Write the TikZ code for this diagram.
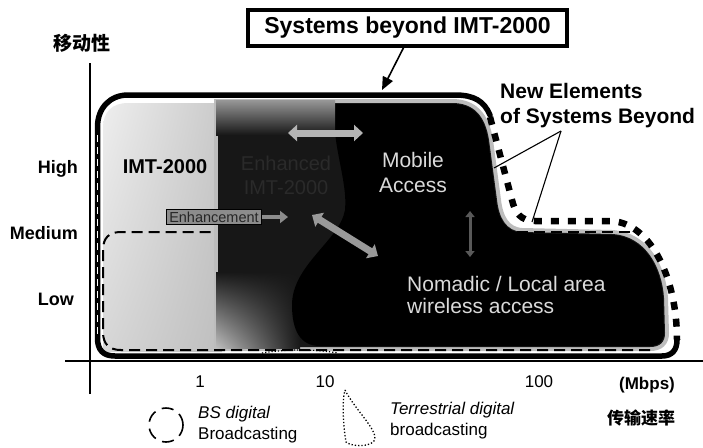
\documentclass[tikz,border=0pt]{standalone}
\usepackage{fontspec}
\setmainfont{Liberation Sans}
\newfontfamily\cjk{Noto Sans CJK SC}
\usetikzlibrary{arrows.meta,shadings}
\definecolor{darkfill}{HTML}{171717}
\definecolor{halo}{HTML}{BDBDBD}
\definecolor{lightA}{HTML}{EEEEEE}
\definecolor{lightB}{HTML}{CACACA}
\definecolor{lightC}{HTML}{D6D6D6}
\definecolor{lightD}{HTML}{BEBEBE}
\definecolor{textlight}{HTML}{DADADA}
\definecolor{textfaint}{HTML}{2A2A2A}
\definecolor{garrowc}{HTML}{B4B4B4}
\definecolor{enhfill}{HTML}{8C8C8C}
\begin{document}
\begin{tikzpicture}[x=1pt,y=-1pt,
  axlabel/.style={font=\fontsize{18}{18}\selectfont\bfseries, inner sep=0},
  ticklabel/.style={font=\fontsize{17}{17}\selectfont, inner sep=0},
  legtext/.style={font=\fontsize{17}{17}\selectfont, inner sep=0, anchor=base west},
  blobtext/.style={font=\fontsize{21}{25}\selectfont, text=textlight, inner sep=0, align=center},
  bordersolid/.style={line width=5.5, line cap=round},
  borderdash/.style={line width=6.5, dash pattern=on 8 off 9},
  bsdash/.style={line width=2, dash pattern=on 11 off 6},
  garrow/.style={draw=garrowc, line width=7, {Triangle[length=9pt,width=16pt]}-{Triangle[length=9pt,width=16pt]}},
]
\useasboundingbox (0,0) rectangle (703,447);

% ---------- light grey IMT-2000 zone ----------
\shade[upper left=lightA, upper right=lightB, lower left=lightC, lower right=lightD]
  (103,128) .. controls (103,112) and (112,103) .. (128,103) -- (222,103) -- (222,352) -- (103,352) -- cycle;

% ---------- dark zone (Enhanced IMT-2000 + new elements) ----------
\path[fill=darkfill, preaction={draw=halo, line width=8}]
  (218,103) -- (452,103) .. controls (473,103) and (485,115) .. (489,140) -- (497,200)
  .. controls (499,218) and (506,231) .. (522,232) -- (612,234)
  .. controls (646,236) and (662,268) .. (664,298) -- (665,333)
  .. controls (665,342) and (660,347) .. (650,347) -- (218,347) -- cycle;
\shade[upper left=darkfill, upper right=darkfill, lower right=darkfill, lower left=lightD]
  (216,272) rectangle (300,348);
\fill[black]
  (335,104) -- (452,104) .. controls (473,104) and (484,116) .. (488,140) -- (496,200)
  .. controls (498,219) and (506,232) .. (522,233) -- (612,235)
  .. controls (645,237) and (661,268) .. (663,298) -- (664,333)
  .. controls (664,341) and (659,346) .. (650,346) -- (320,346)
  .. controls (300,346) and (292,330) .. (292,305)
  .. controls (292,265) and (340,240) .. (345,210)
  .. controls (348,180) and (330,140) .. cycle;
\shade[top color=halo!80!black, bottom color=darkfill] (216,100) rectangle (335,135);

% ---------- BS digital broadcasting (dashed) ----------
\draw[bsdash]
  (650,350) -- (121,350) .. controls (109,350) and (103,344) .. (103,332) -- (103,250)
  .. controls (103,238) and (109,232) .. (121,232) -- (216,232);
\draw[bsdash] (500,232) -- (640,232);
% terrestrial digital broadcasting (dotted)
\draw[dotted, line width=1.2] (262,353) .. controls (285,349) and (315,349) .. (338,353);

% ---------- axes ----------
\coordinate (yb) at (90,394);
\coordinate (yt) at (90,63);
\coordinate (xl) at (65,361);
\coordinate (xr) at (703,361);
\draw[line width=1.2] (yb) -- (yt);
\draw[line width=1.2] (xl) -- (xr);

% ---------- outer border of systems beyond IMT-2000 ----------
\draw[bordersolid]
  (490,115) .. controls (484,101) and (474,95) .. (455,95) -- (128,95)
  .. controls (110,95) and (97.5,108) .. (97.5,127) -- (97.5,338)
  .. controls (97.5,350) and (103,356) .. (115,356) -- (662,356)
  .. controls (672,356) and (677,350) .. (677,340);
\draw[white, line width=1, dash pattern=on 7 off 5] (97.5,135) -- (97.5,335);
\draw[borderdash]
  (490,117) -- (512,200) .. controls (515,213) and (521,221) .. (535,221) -- (612,221)
  .. controls (652,224) and (677,280) .. (677,340);

% ---------- arrows inside ----------
\coordinate (ha1) at (288,133);
\coordinate (ha2) at (363,133);
\draw[garrow] (ha1) -- (ha2);
\coordinate (da1) at (312,215);
\coordinate (da2) at (378,256);
\draw[garrow, draw=garrowc!85!black] (da1) -- (da2);
\coordinate (va1) at (470,211);
\coordinate (va2) at (470,257);
\draw[draw=gray!70!black, line width=3, {Triangle[length=6pt,width=9pt]}-{Triangle[length=6pt,width=9pt]}] (va1) -- (va2);

\node[draw=black, line width=1, fill=enhfill, text=black!85, font=\fontsize{14.5}{14.5}\selectfont, inner xsep=3, inner ysep=2] (enh) at (214,217) {Enhancement};
\coordinate (enhtip) at (288,217);
\draw[draw=enhfill, line width=4, -{Triangle[length=8pt,width=12pt]}] (enh.east) -- (enhtip);

% ---------- texts inside ----------
\node[font=\fontsize{20}{20}\selectfont\bfseries, inner sep=0] (imt) at (165,167) {IMT-2000};
\node[font=\fontsize{20}{24}\selectfont, text=textfaint, inner sep=0, align=center] (eimt) at (286,175) {Enhanced\\IMT-2000};
\node[blobtext] (mob) at (413,172) {Mobile\\Access};
\node[font=\fontsize{21}{23}\selectfont, text=textlight, inner sep=0, anchor=base west] (nom1) at (407,291) {Nomadic / Local area};
\node[font=\fontsize{21}{23}\selectfont, text=textlight, inner sep=0, anchor=base west] (nom2) at (407,313) {wireless access};

% ---------- title ----------
\node[draw=black, line width=3.5, font=\fontsize{23}{23}\selectfont\bfseries, inner xsep=5, minimum height=36, minimum width=319] (title) at (407.5,28) {Systems beyond IMT-2000};
\coordinate (btop) at (382,90);
\draw[line width=1.6, -{Triangle[length=13pt,width=11pt]}] ([xshift=-4]title.south) -- (btop);

% ---------- New elements ----------
\node[font=\fontsize{21}{21}\selectfont\bfseries, inner sep=0, anchor=base west] (ne1) at (500,98) {New Elements};
\node[font=\fontsize{21}{21}\selectfont\bfseries, inner sep=0, anchor=base west] (ne2) at (500,123) {of Systems Beyond};
\coordinate (nep) at (561,131);
\coordinate (nd1) at (494,168);
\coordinate (nd2) at (532,222);
\draw[line width=1.1] (nep) -- (nd1);
\draw[line width=1.1] (nep) -- (nd2);

% ---------- axis labels ----------
\node[font=\cjk\fontsize{19}{19}\selectfont\bfseries, inner sep=0] (ylab) at (82,43) {移动性};
\node[axlabel, anchor=base east] (hi) at (78,173) {High};
\node[axlabel, anchor=base east] (me) at (78,239) {Medium};
\node[axlabel, anchor=base east] (lo) at (74,305) {Low};
\node[ticklabel, anchor=base] (t1) at (200,387) {1};
\node[ticklabel, anchor=base] (t10) at (325,387) {10};
\node[ticklabel, anchor=base] (t100) at (539,387) {100};
\node[font=\fontsize{17}{17}\selectfont\bfseries, inner sep=0, anchor=base] (mbps) at (647,389) {(Mbps)};
\node[font=\cjk\fontsize{17}{17}\selectfont\bfseries, inner sep=0] (xlab) at (641,418) {传输速率};

% ---------- legend ----------
\node[draw, circle, line width=1.6, dash pattern=on 12 off 7, minimum size=34, inner sep=0] (bsleg) at (166,425) {};
\node[legtext, font=\fontsize{17}{17}\selectfont\itshape] (bs1) at (198,418) {BS digital};
\node[legtext] (bs2) at (198,439) {Broadcasting};
\draw[dotted, line width=1.3] (345,390) .. controls (355,410) and (380,432) .. (374,441)
  .. controls (368,448) and (350,446) .. (346,442) .. controls (343,425) and (342,400) .. (345,390);
\node[legtext, font=\fontsize{17}{17}\selectfont\itshape] (tr1) at (390,414) {Terrestrial digital};
\node[legtext] (tr2) at (390,435) {broadcasting};
\end{tikzpicture}
\end{document}
